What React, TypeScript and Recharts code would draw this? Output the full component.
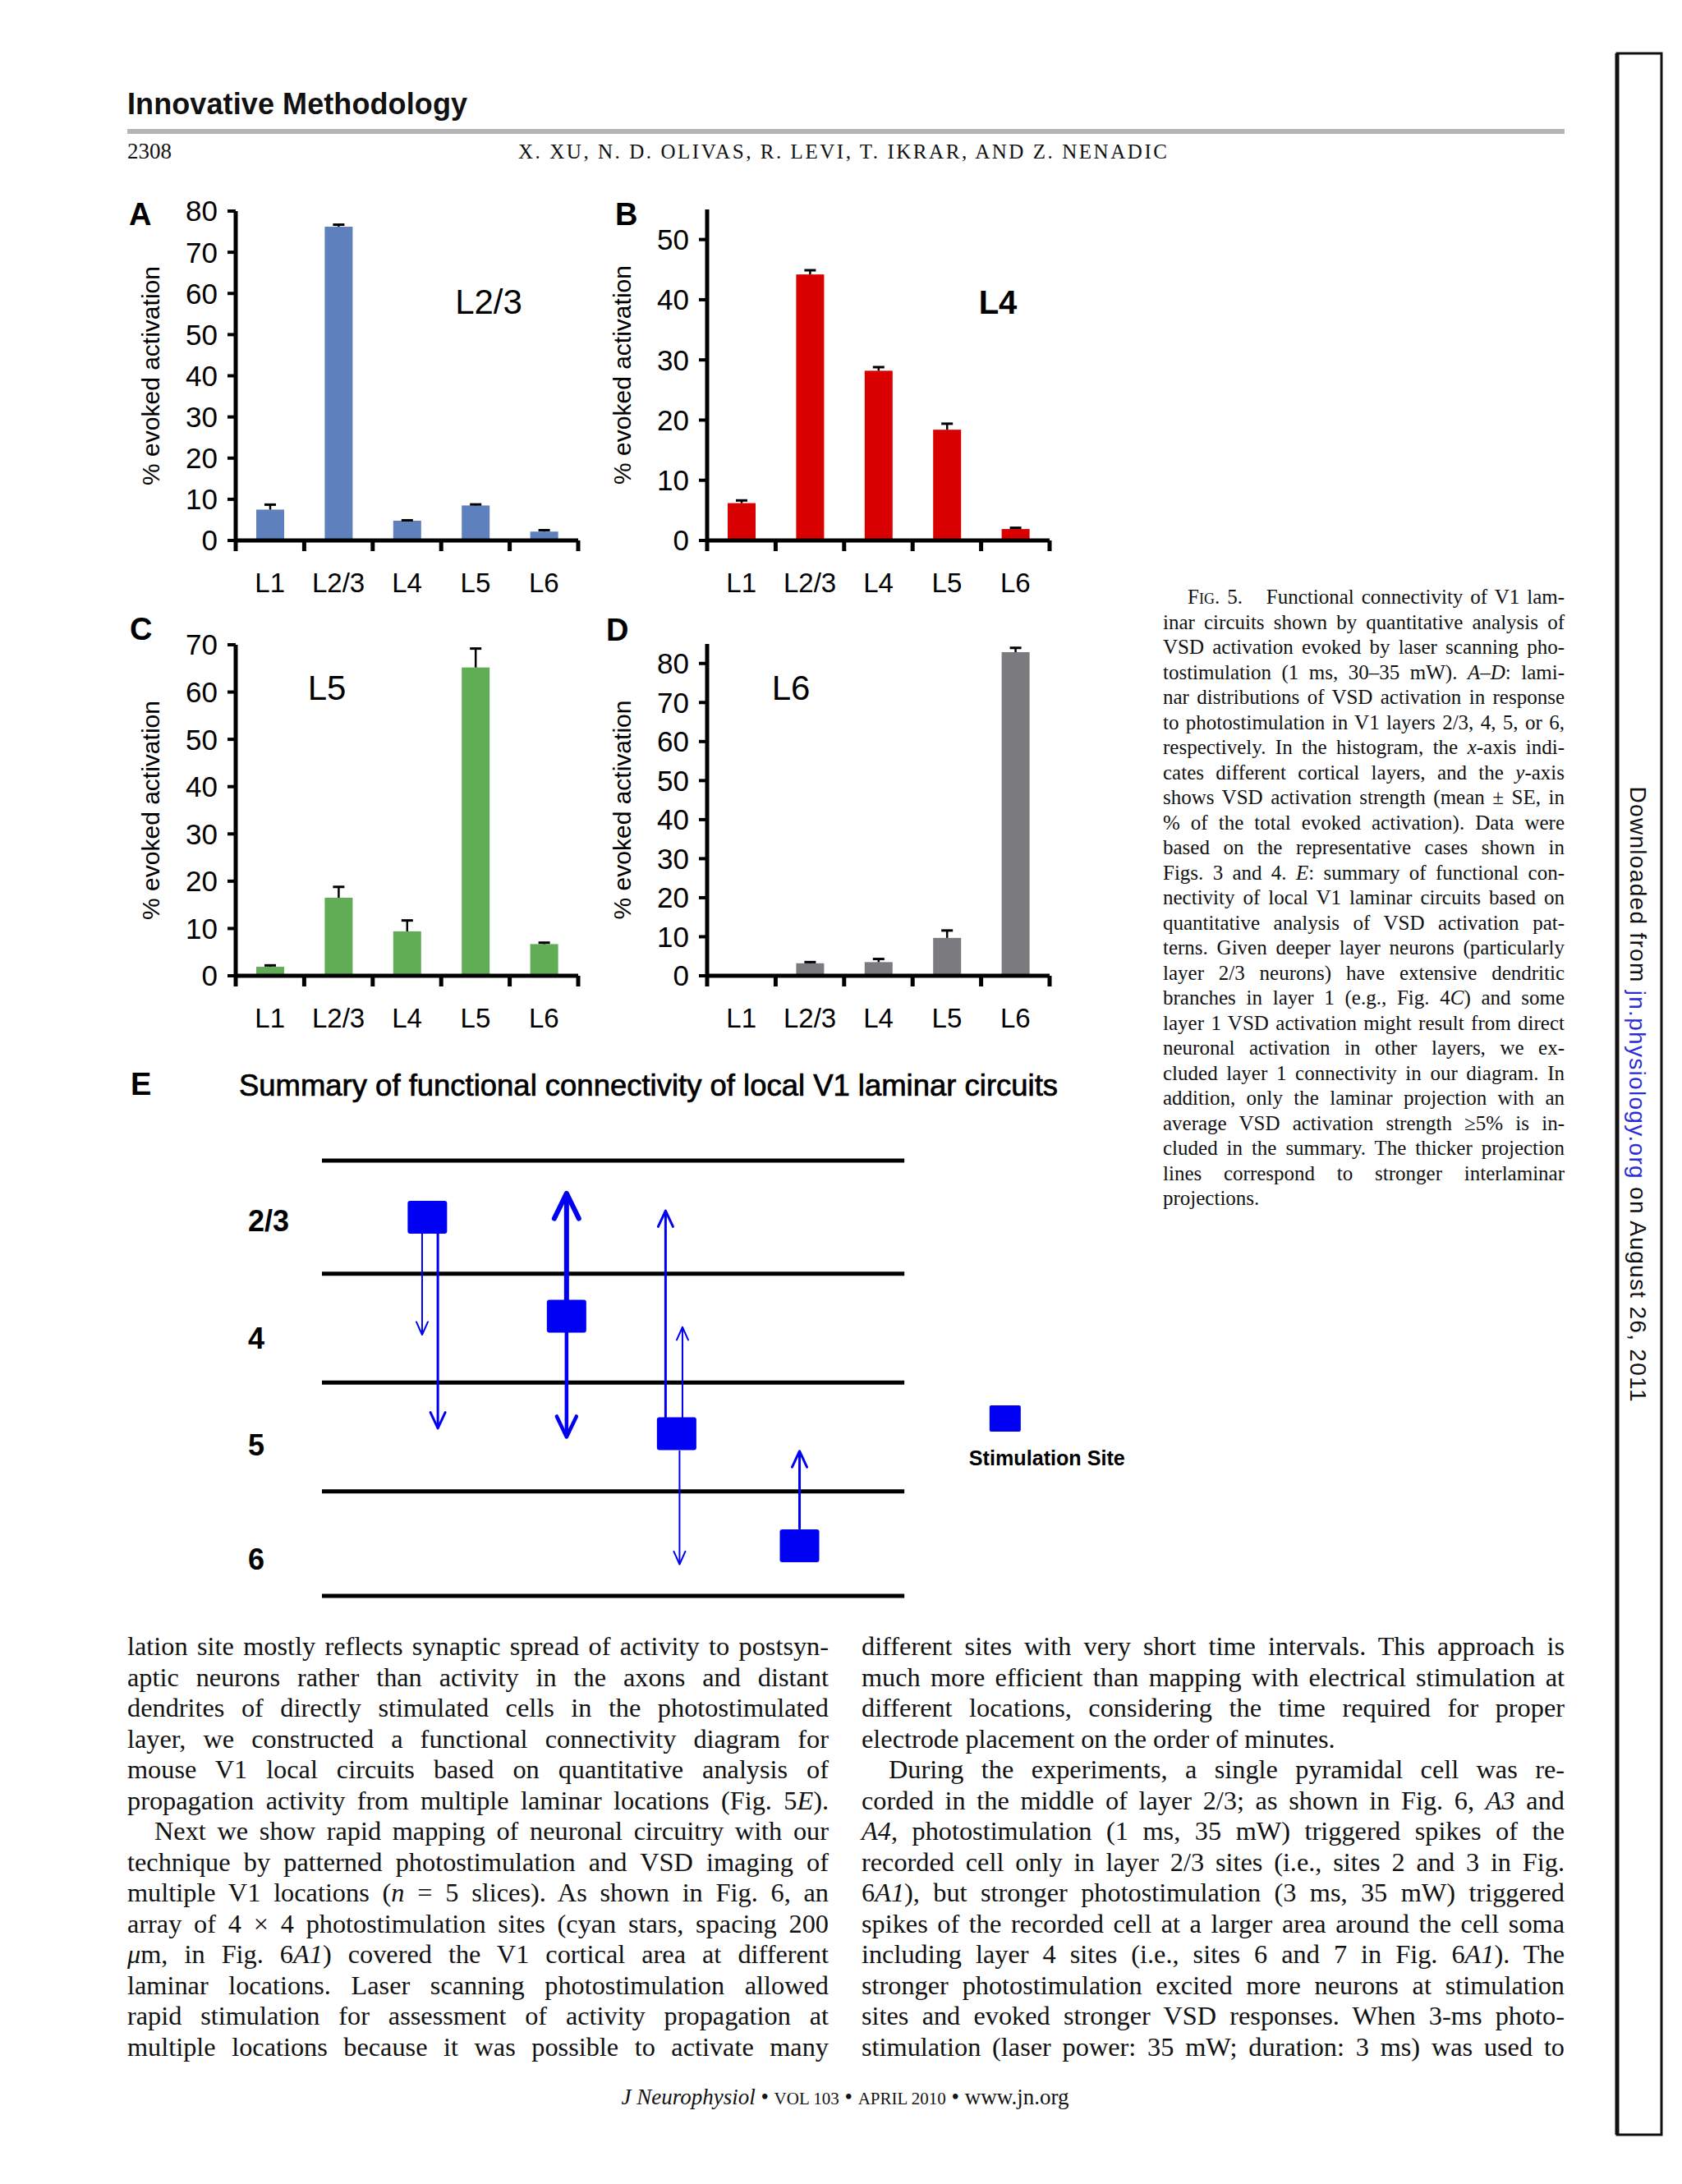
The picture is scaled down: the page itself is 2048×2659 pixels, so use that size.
import React from "react";
import {
  BarChart,
  Bar,
  XAxis,
  YAxis,
  ScatterChart,
  Scatter,
  ReferenceLine,
} from "recharts";

const SANS = "'Liberation Sans', Arial, sans-serif";
const SERIF = "'Liberation Serif', 'Times New Roman', serif";

// ---- panels A-D: % evoked activation per cortical layer ----
const layers = ["L1", "L2/3", "L4", "L5", "L6"];

const l23Mean = [7.5, 76.2, 4.8, 8.5, 2.15];
const l23Se = [1.2, 0.5, 0.1, 0.25, 0.35];

const l4Mean = [6.2, 44.2, 28.2, 18.4, 1.9];
const l4Se = [0.45, 0.7, 0.6, 1.0, 0.2];

const l5Mean = [1.9, 16.5, 9.4, 65.2, 6.7];
const l5Se = [0.3, 2.3, 2.3, 4.0, 0.3];

const l6Mean = [0, 3.2, 3.5, 9.7, 82.9];
const l6Se = [0, 0.3, 0.8, 1.9, 1.1];

const ticksA = [0, 10, 20, 30, 40, 50, 60, 70, 80];
const ticksB = [0, 10, 20, 30, 40, 50];
const ticksC = [0, 10, 20, 30, 40, 50, 60, 70];
const ticksD = [0, 10, 20, 30, 40, 50, 60, 70, 80];

// ---- panel E: connectivity summary (depth in layer units, x in column units) ----
const boundaryDepths = [0, 1.04, 2.04, 3.04, 4.0];
const layerLabels = ["2/3", "4", "5", "6"];
const layerLabelDepths = [0.55, 1.63, 2.61, 3.66];
const siteX = [1.81, 4.2, 6.09, 8.2];
const siteDepth = [0.52, 1.43, 2.51, 3.54];
const arrowX = [1.72, 1.99, 4.2, 4.2, 5.9, 6.19, 6.14, 8.2];
const arrowFrom = [0.67, 0.67, 1.28, 1.58, 2.36, 2.36, 2.67, 3.38];
const arrowTo = [1.6, 2.46, 0.3, 2.54, 0.46, 1.53, 3.71, 2.67];
const arrowStrength = [1, 2, 4, 3, 2, 1, 1, 2];
const legendPoint = [{ x: 11.73, y: 2.37 }];

const PLOT_W = 417;
const BAND = PLOT_W / layers.length;
const Y_AXIS_W = 140;
const DIAG_AXIS_W = 110;

function ErrBarShape(props: any) {
  const { x, y, width, height, fill, payload } = props;
  if (!payload || !payload.mean || !height) return <g />;
  const cx = x + width / 2;
  const top = y - (height * payload.se) / payload.mean;
  return (
    <g>
      <rect x={x} y={y} width={width} height={height} fill={fill} />
      <line x1={cx} x2={cx} y1={y} y2={top} stroke="#000" strokeWidth={2.5} />
      <line x1={cx - 7} x2={cx + 7} y1={top} y2={top} stroke="#000" strokeWidth={3} />
    </g>
  );
}

function LayerTick(props: any) {
  const { x, y, payload } = props;
  const last = payload.value === layers[layers.length - 1];
  return (
    <g>
      <line x1={x - BAND / 2} x2={x - BAND / 2} y1={y} y2={y + 13} stroke="#000" strokeWidth={5} />
      {last && (
        <line x1={x + BAND / 2} x2={x + BAND / 2} y1={y} y2={y + 13} stroke="#000" strokeWidth={5} />
      )}
      <text x={x} y={y + 63} textAnchor="middle" fontSize={33} fontFamily={SANS} fill="#000">
        {payload.value}
      </text>
    </g>
  );
}

const yLabel = (props: any) => {
  const vb = props.viewBox || { x: 0, y: 0, width: Y_AXIS_W, height: 400 };
  const cx = vb.x + Y_AXIS_W - 104;
  const cy = vb.y + vb.height / 2;
  return (
    <text
      x={cx}
      y={cy}
      transform={`rotate(-90 ${cx} ${cy})`}
      textAnchor="middle"
      dominantBaseline="central"
      fontSize={30}
      fontFamily={SANS}
      fill="#000"
    >
      % evoked activation
    </text>
  );
};

function LayerPanel(props: {
  left: number;
  top: number;
  height: number;
  mean: number[];
  se: number[];
  color: string;
  max: number;
  ticks: number[];
}) {
  const { left, top, height, mean, se, color, max, ticks } = props;
  const data = layers.map((layer, i) => ({ layer, mean: mean[i], se: se[i] }));
  return (
    <div style={{ position: "absolute", left: left - Y_AXIS_W, top: top - 20 }}>
      <BarChart
        width={Y_AXIS_W + PLOT_W + 20}
        height={height + 100}
        data={data}
        margin={{ top: 20, right: 20, bottom: 0, left: 0 }}
        barSize={34}
      >
        <XAxis
          dataKey="layer"
          height={80}
          interval={0}
          axisLine={{ stroke: "#000", strokeWidth: 5 }}
          tickLine={false}
          tickSize={0}
          tickMargin={0}
          tick={(p: any) => <LayerTick {...p} />}
        />
        <YAxis
          width={Y_AXIS_W}
          domain={[0, max]}
          ticks={ticks}
          interval={0}
          axisLine={{ stroke: "#000", strokeWidth: 5 }}
          tickLine={{ stroke: "#000", strokeWidth: 4 }}
          tickSize={10}
          tickMargin={12}
          tick={{ fontSize: 35, fill: "#000", fontFamily: SANS }}
          label={yLabel}
        />
        <Bar dataKey="mean" fill={color} shape={ErrBarShape} isAnimationActive={false} />
      </BarChart>
    </div>
  );
}

function ArrowShape(props: any) {
  const { x1, y1, x2, y2, w } = props;
  const dir = y2 > y1 ? 1 : -1;
  const hl = 8 + 3.8 * w;
  const hw = 3 + 2 * w;
  return (
    <g stroke="#0000f2" fill="none" strokeLinecap="round" strokeLinejoin="round">
      <line x1={x1} y1={y1} x2={x2} y2={y2 - dir * w * 0.4} strokeWidth={w} />
      <polyline
        points={`${x2 - hw},${y2 - dir * hl} ${x2},${y2} ${x2 + hw},${y2 - dir * hl}`}
        strokeWidth={w}
      />
    </g>
  );
}

function SiteShape(props: any) {
  const { cx, cy } = props;
  return <rect x={cx - 24} y={cy - 20} width={48} height={40} rx={3} fill="#0000f2" />;
}

function LegendShape(props: any) {
  const { cx, cy } = props;
  return (
    <g>
      <rect x={cx - 19} y={cy - 16} width={38} height={32} rx={2} fill="#0000f2" />
      <text
        x={cx + 51}
        y={cy + 57}
        textAnchor="middle"
        fontSize={25}
        fontWeight="bold"
        fontFamily={SANS}
        fill="#000"
        textLength={190}
        lengthAdjust="spacingAndGlyphs"
      >
        Stimulation Site
      </text>
    </g>
  );
}

function LayerLabelTick(props: any) {
  const { x, y, payload, index } = props;
  let i = typeof index === "number" ? index : layerLabelDepths.indexOf(payload.value);
  if (i < 0) i = layerLabelDepths.indexOf(payload.value);
  return (
    <text x={x - 90} y={y + 13} fontSize={36} fontWeight="bold" fontFamily={SANS} fill="#000">
      {layerLabels[i]}
    </text>
  );
}

function Diagram() {
  const sites = siteX.map((x, i) => ({ x, y: siteDepth[i] }));
  const widthFor = [0, 2, 3, 4.5, 6];
  return (
    <div style={{ position: "absolute", left: 392 - DIAG_AXIS_W, top: 1380 }}>
      <ScatterChart
        width={DIAG_AXIS_W + 1007}
        height={596}
        margin={{ top: 0, right: 0, bottom: 0, left: 0 }}
      >
        <XAxis type="number" dataKey="x" domain={[0, 14.2]} hide />
        <YAxis
          type="number"
          dataKey="y"
          domain={[-0.25, 4.25]}
          reversed
          width={DIAG_AXIS_W}
          ticks={layerLabelDepths}
          interval={0}
          axisLine={false}
          tickLine={false}
          tickSize={0}
          tickMargin={0}
          tick={(p: any) => <LayerLabelTick {...p} />}
        />
        {boundaryDepths.map((d) => (
          <ReferenceLine
            key={`b${d}`}
            segment={[
              { x: 0, y: d },
              { x: 10, y: d },
            ]}
            stroke="#000"
            strokeWidth={5}
          />
        ))}
        {arrowX.map((x, i) => {
          const w = widthFor[arrowStrength[i]];
          return (
            <ReferenceLine
              key={`a${i}`}
              segment={[
                { x, y: arrowFrom[i] },
                { x, y: arrowTo[i] },
              ]}
              stroke="#0000f2"
              strokeWidth={w}
              shape={(p: any) => <ArrowShape {...p} w={w} />}
            />
          );
        })}
        <Scatter data={sites} shape={SiteShape} isAnimationActive={false} />
        <Scatter data={legendPoint} shape={LegendShape} isAnimationActive={false} />
      </ScatterChart>
    </div>
  );
}

// ---- page text ----
const captionLines = [
  "inar circuits shown by quantitative analysis of",
  "VSD activation evoked by laser scanning pho-",
  "tostimulation (1 ms, 30–35 mW). _A–D_: lami-",
  "nar distributions of VSD activation in response",
  "to photostimulation in V1 layers 2/3, 4, 5, or 6,",
  "respectively. In the histogram, the _x_-axis indi-",
  "cates different cortical layers, and the _y_-axis",
  "shows VSD activation strength (mean ± SE, in",
  "% of the total evoked activation). Data were",
  "based on the representative cases shown in",
  "Figs. 3 and 4. _E_: summary of functional con-",
  "nectivity of local V1 laminar circuits based on",
  "quantitative analysis of VSD activation pat-",
  "terns. Given deeper layer neurons (particularly",
  "layer 2/3 neurons) have extensive dendritic",
  "branches in layer 1 (e.g., Fig. 4_C_) and some",
  "layer 1 VSD activation might result from direct",
  "neuronal activation in other layers, we ex-",
  "cluded layer 1 connectivity in our diagram. In",
  "addition, only the laminar projection with an",
  "average VSD activation strength ≥5% is in-",
  "cluded in the summary. The thicker projection",
  "lines correspond to stronger interlaminar",
  "projections.|",
];

const bodyLeft = [
  "lation site mostly reflects synaptic spread of activity to postsyn-",
  "aptic neurons rather than activity in the axons and distant",
  "dendrites of directly stimulated cells in the photostimulated",
  "layer, we constructed a functional connectivity diagram for",
  "mouse V1 local circuits based on quantitative analysis of",
  "propagation activity from multiple laminar locations (Fig. 5_E_).",
  ">Next we show rapid mapping of neuronal circuitry with our",
  "technique by patterned photostimulation and VSD imaging of",
  "multiple V1 locations (_n_ = 5 slices). As shown in Fig. 6, an",
  "array of 4 × 4 photostimulation sites (cyan stars, spacing 200",
  "_μ_m, in Fig. 6_A1_) covered the V1 cortical area at different",
  "laminar locations. Laser scanning photostimulation allowed",
  "rapid stimulation for assessment of activity propagation at",
  "multiple locations because it was possible to activate many",
];

const bodyRight = [
  "different sites with very short time intervals. This approach is",
  "much more efficient than mapping with electrical stimulation at",
  "different locations, considering the time required for proper",
  "electrode placement on the order of minutes.|",
  ">During the experiments, a single pyramidal cell was re-",
  "corded in the middle of layer 2/3; as shown in Fig. 6, _A3_ and",
  "_A4_, photostimulation (1 ms, 35 mW) triggered spikes of the",
  "recorded cell only in layer 2/3 sites (i.e., sites 2 and 3 in Fig.",
  "6_A1_), but stronger photostimulation (3 ms, 35 mW) triggered",
  "spikes of the recorded cell at a larger area around the cell soma",
  "including layer 4 sites (i.e., sites 6 and 7 in Fig. 6_A1_). The",
  "stronger photostimulation excited more neurons at stimulation",
  "sites and evoked stronger VSD responses. When 3-ms photo-",
  "stimulation (laser power: 35 mW; duration: 3 ms) was used to",
];

function rich(s: string) {
  return s.split("_").map((part, i) =>
    i % 2 ? <i key={i}>{part}</i> : <React.Fragment key={i}>{part}</React.Fragment>
  );
}

function Para(props: {
  left: number;
  width: number;
  baseline: number;
  step: number;
  size: number;
  lines: string[];
  indent?: number;
}) {
  const { left, width, baseline, step, size, lines } = props;
  const indent = props.indent ?? 33;
  const off = (step - 1.107 * size) / 2 + 0.891 * size;
  return (
    <>
      {lines.map((ln, i) => {
        const ind = ln.startsWith(">");
        const last = ln.endsWith("|");
        const text = ln.replace(/^>/, "").replace(/\|$/, "");
        return (
          <div
            key={i}
            style={{
              position: "absolute",
              left: left + (ind ? indent : 0),
              top: baseline + i * step - off,
              width: width - (ind ? indent : 0),
              height: step,
              lineHeight: `${step}px`,
              fontSize: size,
              fontFamily: SERIF,
              textAlign: "justify",
              textAlignLast: last ? "left" : "justify",
              color: "#111",
            }}
          >
            {rich(text)}
          </div>
        );
      })}
    </>
  );
}

function PageText() {
  const capSize = 25;
  const capStep = 30.5;
  const capOff = (capStep - 1.107 * capSize) / 2 + 0.891 * capSize;
  return (
    <>
      <div
        style={{
          position: "absolute",
          left: 1446,
          top: 736 - capOff,
          width: 459,
          height: capStep,
          lineHeight: `${capStep}px`,
          fontSize: capSize,
          fontFamily: SERIF,
          textAlign: "justify",
          textAlignLast: "justify",
          color: "#111",
        }}
      >
        <span style={{ fontVariant: "small-caps" }}>Fig.</span> 5.
        <span style={{ display: "inline-block", width: 20 }} /> Functional connectivity of V1 lam-
      </div>
      <Para left={1416} width={489} baseline={736 + capStep} step={capStep} size={capSize} lines={captionLines} />
      <Para left={155} width={854} baseline={2016} step={37.5} size={32.3} lines={bodyLeft} />
      <Para left={1049} width={856} baseline={2016} step={37.5} size={32.3} lines={bodyRight} />

      <svg
        width={2048}
        height={2659}
        style={{ position: "absolute", left: 0, top: 0, pointerEvents: "none" }}
      >
        <text x={155} y={139} fontSize={36} fontWeight="bold" fontFamily={SANS} fill="#111" textLength={414}>
          Innovative Methodology
        </text>
        <rect x={155} y={157} width={1750} height={6} fill="#b5b5b5" />
        <text x={155} y={193} fontSize={27} fontFamily={SERIF} fill="#111">
          2308
        </text>
        <text
          x={631}
          y={193}
          fontSize={25}
          fontFamily={SERIF}
          fill="#111"
          textLength={790}
          lengthAdjust="spacing"
        >
          X. XU, N. D. OLIVAS, R. LEVI, T. IKRAR, AND Z. NENADIC
        </text>

        {[
          ["A", 157, 274],
          ["B", 749, 274],
          ["C", 158, 779],
          ["D", 738, 780],
          ["E", 159, 1333],
        ].map(([t, x, y]) => (
          <text key={t as string} x={x as number} y={y as number} fontSize={38} fontWeight="bold" fontFamily={SANS} fill="#000">
            {t}
          </text>
        ))}

        <text x={595} y={382} textAnchor="middle" fontSize={42} fontFamily={SANS} fill="#000">
          L2/3
        </text>
        <text x={1215} y={382} textAnchor="middle" fontSize={40} fontWeight="bold" fontFamily={SANS} fill="#000">
          L4
        </text>
        <text x={398} y={852} textAnchor="middle" fontSize={42} fontFamily={SANS} fill="#000">
          L5
        </text>
        <text x={963} y={852} textAnchor="middle" fontSize={42} fontFamily={SANS} fill="#000">
          L6
        </text>

        <text
          x={291}
          y={1334}
          fontSize={36}
          fontFamily={SANS}
          fill="#000"
          stroke="#000"
          strokeWidth={0.7}
          textLength={997}
          lengthAdjust="spacingAndGlyphs"
        >
          Summary of functional connectivity of local V1 laminar circuits
        </text>

        <text x={1029} y={2562} textAnchor="middle" fontSize={27} fontFamily={SERIF} fill="#111">
          <tspan fontStyle="italic">J Neurophysiol</tspan>
          {" • "}
          <tspan fontSize={21}>VOL 103</tspan>
          {" • "}
          <tspan fontSize={21}>APRIL 2010</tspan>
          {" • www.jn.org"}
        </text>

        <rect x={1969} y={65} width={54} height={2534} fill="none" stroke="#111" strokeWidth={3} />
        <line x1={1969} y1={65} x2={1969} y2={2599} stroke="#111" strokeWidth={5} />
        <text
          x={1994}
          y={1332}
          transform="rotate(90 1994 1332)"
          textAnchor="middle"
          dominantBaseline="central"
          fontSize={28}
          fontFamily={SANS}
          fill="#111"
          textLength={749}
        >
          Downloaded from <tspan fill="#2d2dd8">jn.physiology.org</tspan> on August 26, 2011
        </text>
      </svg>
    </>
  );
}

export default function App() {
  return (
    <div
      style={{
        position: "absolute",
        left: 0,
        top: 0,
        width: 2048,
        height: 2659,
        background: "#fff",
        overflow: "hidden",
      }}
    >
      <LayerPanel left={287} top={257} height={401} mean={l23Mean} se={l23Se} color="#5e80bc" max={80} ticks={ticksA} />
      <LayerPanel left={861} top={255} height={403} mean={l4Mean} se={l4Se} color="#d80000" max={55} ticks={ticksB} />
      <LayerPanel left={287} top={785} height={403} mean={l5Mean} se={l5Se} color="#60ad56" max={70} ticks={ticksC} />
      <LayerPanel left={861} top={784} height={404} mean={l6Mean} se={l6Se} color="#7b7a7f" max={85} ticks={ticksD} />
      <Diagram />
      <PageText />
    </div>
  );
}
